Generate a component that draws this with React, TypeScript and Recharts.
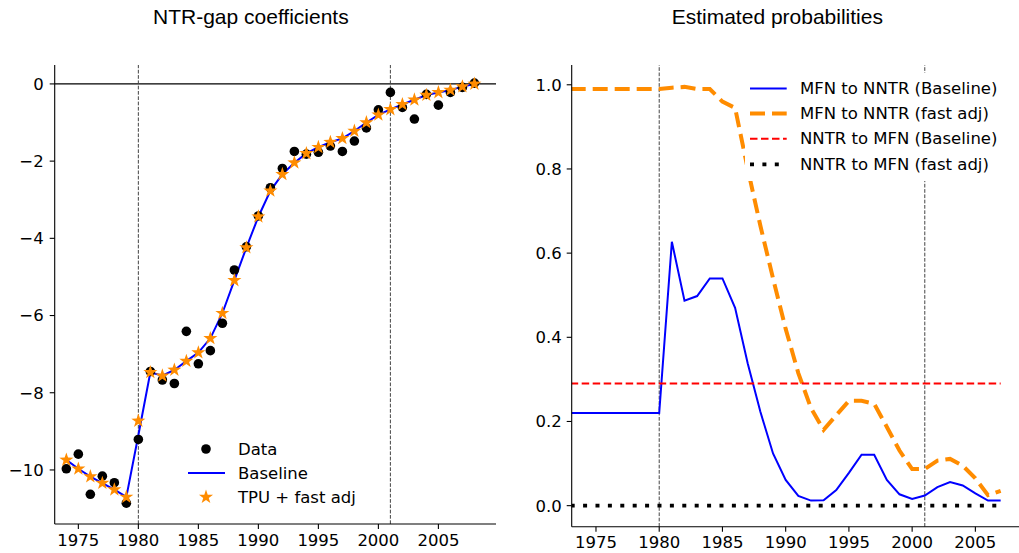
import React from "react";
import {
  ComposedChart,
  LineChart,
  Line,
  Scatter,
  XAxis,
  YAxis,
  ReferenceLine,
  Legend,
} from "recharts";

// left panel: NTR-gap coefficients
const COEF_YEARS = [
  1974, 1975, 1976, 1977, 1978, 1979, 1980, 1981, 1982, 1983, 1984, 1985, 1986, 1987, 1988, 1989, 1990,
  1991, 1992, 1993, 1994, 1995, 1996, 1997, 1998, 1999, 2000, 2001, 2002, 2003, 2004, 2005, 2006, 2007, 2008,
];
const DATA_COEF = [
  -9.97, -9.59, -10.63, -10.16, -10.33, -10.86, -9.21, -7.45, -7.67, -7.76,
  -6.41, -7.25, -6.91, -6.2, -4.82, -4.22, -3.42, -2.69, -2.19, -1.75,
  -1.82, -1.77, -1.61, -1.75, -1.48, -1.14, -0.67, -0.22, -0.61, -0.91,
  -0.27, -0.55, -0.22, -0.09, 0.02,
];
const BASELINE_COEF = [
  -9.74, -9.97, -10.17, -10.34, -10.51, -10.7, -9.1, -7.47, -7.56, -7.41,
  -7.18, -6.96, -6.59, -5.94, -5.09, -4.24, -3.44, -2.77, -2.34, -2.04,
  -1.8, -1.64, -1.51, -1.41, -1.22, -1.0, -0.8, -0.66, -0.53, -0.41,
  -0.29, -0.22, -0.16, -0.07, 0.0,
];
const FAST_ADJ_COEF = [
  -9.74, -9.97, -10.17, -10.34, -10.51, -10.7, -8.73, -7.47, -7.56, -7.41,
  -7.18, -6.96, -6.59, -5.94, -5.09, -4.24, -3.44, -2.77, -2.34, -2.04,
  -1.8, -1.64, -1.51, -1.41, -1.22, -1.0, -0.8, -0.66, -0.53, -0.41,
  -0.29, -0.22, -0.16, -0.07, 0.0,
];

// right panel: estimated probabilities
const PROB_YEARS = [
  1973, 1974, 1975, 1976, 1977, 1978, 1979, 1980, 1981, 1982, 1983, 1984, 1985, 1986, 1987, 1988, 1989,
  1990, 1991, 1992, 1993, 1994, 1995, 1996, 1997, 1998, 1999, 2000, 2001, 2002, 2003, 2004, 2005, 2006, 2007,
];
const MFN_NNTR_BASE = [
  0.22, 0.22, 0.22, 0.22, 0.22, 0.22, 0.22, 0.22, 0.627, 0.487, 0.498, 0.54, 0.54, 0.47, 0.338, 0.223, 0.124,
  0.061, 0.023, 0.012, 0.013, 0.037, 0.078, 0.121, 0.121, 0.061, 0.027, 0.016, 0.024, 0.044, 0.056, 0.048,
  0.029, 0.012, 0.012,
];
const MFN_NNTR_FAST = [
  0.99, 0.99, 0.99, 0.99, 0.99, 0.99, 0.99, 0.99, 0.993, 0.995, 0.99, 0.99, 0.96, 0.945, 0.8, 0.665, 0.54,
  0.42, 0.315, 0.232, 0.18, 0.215, 0.249, 0.249, 0.242, 0.187, 0.131, 0.087, 0.087, 0.107, 0.111, 0.095,
  0.065, 0.025, 0.035,
];
const NNTR_MFN_BASE = [
  0.29, 0.29, 0.29, 0.29, 0.29, 0.29, 0.29, 0.29, 0.29, 0.29, 0.29, 0.29, 0.29, 0.29, 0.29, 0.29, 0.29,
  0.29, 0.29, 0.29, 0.29, 0.29, 0.29, 0.29, 0.29, 0.29, 0.29, 0.29, 0.29, 0.29, 0.29, 0.29, 0.29, 0.29, 0.29,
];
const NNTR_MFN_FAST = [
  0, 0, 0, 0, 0, 0, 0, 0, 0, 0, 0, 0, 0, 0, 0, 0, 0,
  0, 0, 0, 0, 0, 0, 0, 0, 0, 0, 0, 0, 0, 0, 0, 0, 0, 0,
];

const X_TICKS = [1975, 1980, 1985, 1990, 1995, 2000, 2005];
const COEF_TICKS = [-10, -8, -6, -4, -2, 0];
const PROB_TICKS = [0, 0.2, 0.4, 0.6, 0.8, 1.0];
const POLICY_YEARS = [1980, 2001];

const coefRows = COEF_YEARS.map((year, i) => ({
  year,
  data: DATA_COEF[i],
  baseline: BASELINE_COEF[i],
  fast: FAST_ADJ_COEF[i],
}));

const probRows = PROB_YEARS.map((year, i) => ({
  year,
  mfnBase: MFN_NNTR_BASE[i],
  mfnFast: MFN_NNTR_FAST[i],
  nntrBase: NNTR_MFN_BASE[i],
  nntrFast: NNTR_MFN_FAST[i],
}));

const TICK_FONT = { fill: "#000", fontSize: 16.5, fontFamily: "DejaVu Sans" };
const AXIS_LINE = { stroke: "#000", strokeWidth: 1.1 };
const ORANGE = "#ff8c00";

const minus = (v: number) => (v < 0 ? `\u2212${Math.abs(v)}` : `${v}`);

function starPoints(cx: number, cy: number, R: number, r: number) {
  const pts: string[] = [];
  for (let i = 0; i < 10; i++) {
    const rad = i % 2 === 0 ? R : r;
    const a = -Math.PI / 2 + (i * Math.PI) / 5;
    pts.push(`${cx + rad * Math.cos(a)},${cy + rad * Math.sin(a)}`);
  }
  return pts.join(" ");
}

const Dot = (props: any) => {
  const { cx, cy } = props;
  if (cx == null || cy == null) return null;
  return <circle cx={cx} cy={cy} r={4.8} fill="#000" />;
};

const Star = (props: any) => {
  const { cx, cy } = props;
  if (cx == null || cy == null) return null;
  return <polygon points={starPoints(cx, cy, 7.4, 2.9)} fill={ORANGE} />;
};

const legendText = { fontSize: 16.5, fontFamily: "DejaVu Sans", fill: "#000" };

const CoefLegend = () => (
  <svg width={200} height={78} style={{ display: "block" }}>
    <rect width={200} height={78} fill="#fff" />
    <circle cx={30} cy={14} r={4.8} fill="#000" />
    <text x={62} y={14} dominantBaseline="central" {...legendText}>Data</text>
    <line x1={12} x2={49} y1={38} y2={38} stroke="#0000ff" strokeWidth={2} />
    <text x={62} y={38} dominantBaseline="central" {...legendText}>Baseline</text>
    <polygon points={starPoints(30, 62, 7.4, 2.9)} fill={ORANGE} />
    <text x={62} y={62} dominantBaseline="central" {...legendText}>TPU + fast adj</text>
  </svg>
);

const ProbLegend = () => (
  <svg width={267} height={108} style={{ display: "block" }}>
    <rect width={267} height={108} fill="#fff" />
    <line x1={5} x2={41.7} y1={15.5} y2={15.5} stroke="#0000ff" strokeWidth={2} />
    <text x={55} y={15.5} dominantBaseline="central" {...legendText}>MFN to NNTR (Baseline)</text>
    <line x1={5} x2={41.7} y1={40.5} y2={40.5} stroke={ORANGE} strokeWidth={4} strokeDasharray="15 7" />
    <text x={55} y={40.5} dominantBaseline="central" {...legendText}>MFN to NNTR (fast adj)</text>
    <line x1={5} x2={41.7} y1={65.7} y2={65.7} stroke="#ff0000" strokeWidth={2} strokeDasharray="7.5 3.5" />
    <text x={55} y={65.7} dominantBaseline="central" {...legendText}>NNTR to MFN (Baseline)</text>
    <line x1={5} x2={41.7} y1={91.3} y2={91.3} stroke="#000" strokeWidth={3.8} strokeDasharray="4 8.4" />
    <text x={55} y={91.3} dominantBaseline="central" {...legendText}>NNTR to MFN (fast adj)</text>
  </svg>
);

const titleStyle: React.CSSProperties = {
  position: "absolute",
  top: 5,
  fontFamily: "Liberation Sans, Arial, sans-serif",
  fontSize: 21,
  lineHeight: "normal",
  color: "#000",
  whiteSpace: "nowrap",
};

export default function App() {
  return (
    <div
      style={{
        position: "absolute",
        left: 0,
        top: 0,
        width: 1019,
        height: 553,
        overflow: "hidden",
        background: "#fff",
      }}
    >
      <div style={{ ...titleStyle, left: 153 }}>NTR-gap coefficients</div>
      <div style={{ ...titleStyle, left: 671.7 }}>Estimated probabilities</div>

      <div style={{ position: "absolute", left: 0, top: 0 }}>
        <ComposedChart width={520} height={553} data={coefRows} margin={{ top: 65, right: 24, bottom: 4, left: 0 }}>
          <XAxis
            dataKey="year"
            type="number"
            domain={[1973.03, 2009.8]}
            allowDataOverflow
            ticks={X_TICKS}
            tick={TICK_FONT}
            tickSize={5}
            tickMargin={5}
            axisLine={AXIS_LINE}
            tickLine={AXIS_LINE}
            height={25}
          />
          <YAxis
            type="number"
            domain={[-11.4, 0.49]}
            allowDataOverflow
            ticks={COEF_TICKS}
            tickFormatter={minus}
            tick={TICK_FONT}
            tickSize={5}
            tickMargin={6}
            axisLine={AXIS_LINE}
            tickLine={AXIS_LINE}
            width={54.7}
          />
          <ReferenceLine y={0} stroke="#000" strokeWidth={1.2} />
          {POLICY_YEARS.map((yr) => (
            <ReferenceLine key={yr} x={yr} stroke="#444" strokeWidth={1} strokeDasharray="3.7 1.6" />
          ))}
          <Scatter dataKey="data" shape={Dot} isAnimationActive={false} />
          <Line
            dataKey="baseline"
            type="linear"
            stroke="#0000ff"
            strokeWidth={2}
            dot={false}
            activeDot={false}
            isAnimationActive={false}
          />
          <Scatter dataKey="fast" shape={Star} isAnimationActive={false} />
          <Legend
            layout="horizontal"
            verticalAlign="middle"
            align="center"
            content={() => <CoefLegend />}
            wrapperStyle={{ left: 176, top: 435, width: 200, height: 78 }}
          />
        </ComposedChart>
      </div>

      <div style={{ position: "absolute", left: 520, top: 0 }}>
        <LineChart width={499} height={553} data={probRows} margin={{ top: 65, right: 0, bottom: 4.3, left: 0 }}>
          <XAxis
            dataKey="year"
            type="number"
            domain={[1973.08, 2008.45]}
            allowDataOverflow
            ticks={X_TICKS}
            tick={TICK_FONT}
            tickSize={5}
            tickMargin={5}
            axisLine={AXIS_LINE}
            tickLine={AXIS_LINE}
            height={22}
          />
          <YAxis
            type="number"
            domain={[-0.05, 1.047]}
            allowDataOverflow
            ticks={PROB_TICKS}
            tickFormatter={(v: number) => v.toFixed(1)}
            tick={TICK_FONT}
            tickSize={5}
            tickMargin={5}
            axisLine={AXIS_LINE}
            tickLine={AXIS_LINE}
            width={51.7}
          />
          {POLICY_YEARS.map((yr) => (
            <ReferenceLine key={yr} x={yr} stroke="#444" strokeWidth={1} strokeDasharray="3.7 1.6" />
          ))}
          <Line dataKey="mfnBase" type="linear" stroke="#0000ff" strokeWidth={2} dot={false} activeDot={false} isAnimationActive={false} />
          <Line dataKey="mfnFast" type="linear" stroke={ORANGE} strokeWidth={4} strokeDasharray="15 7" dot={false} activeDot={false} isAnimationActive={false} />
          <Line dataKey="nntrBase" type="linear" stroke="#ff0000" strokeWidth={2} strokeDasharray="7.5 3.5" dot={false} activeDot={false} isAnimationActive={false} />
          <Line dataKey="nntrFast" type="linear" stroke="#000" strokeWidth={3.8} strokeDasharray="4 8.4" dot={false} activeDot={false} isAnimationActive={false} />
          <Legend
            layout="horizontal"
            verticalAlign="middle"
            align="center"
            content={() => <ProbLegend />}
            wrapperStyle={{ left: 225, top: 73, width: 267, height: 108 }}
          />
        </LineChart>
      </div>
    </div>
  );
}
